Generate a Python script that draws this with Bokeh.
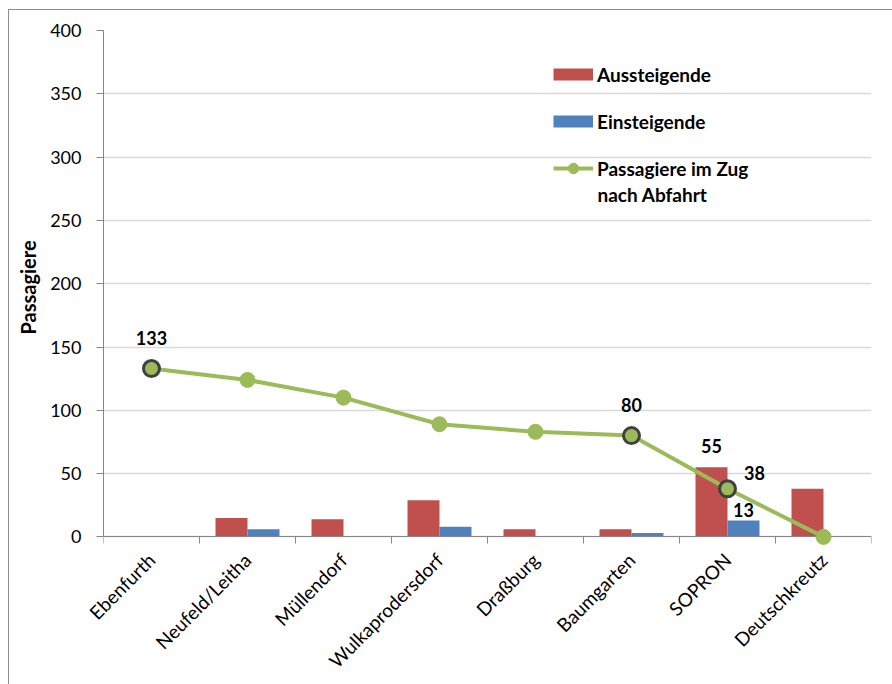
import math

import numpy as np
from bokeh.core.properties import value
from bokeh.embed import file_html
from bokeh.models import FixedTicker, Label, Legend, LegendItem, LinearAxis, Range1d
from bokeh.plotting import figure
from bokeh.resources import INLINE

# Stations along the line and passenger counts per stop
stations = ["Ebenfurth", "Neufeld/Leitha", "Müllendorf", "Wulkaprodersdorf",
            "Draßburg", "Baumgarten", "SOPRON", "Deutschkreutz"]
aussteigende = [0, 15, 14, 29, 6, 6, 55, 38]
einsteigende = [0, 6, 0, 8, 0, 3, 13, 0]
im_zug = [133, 124, 110, 89, 83, 80, 38, 0]
y_ticks = [0, 50, 100, 150, 200, 250, 300, 350, 400]

# stops whose values are called out on the chart
marked = [0, 5, 6]

RED = "#C0504D"
BLUE = "#4F81BD"
GREEN = "#9BBB59"
AXIS = "#868686"
FONT = "Lato"

pos = list(range(len(stations)))
boundaries = [i - 0.5 for i in range(len(stations) + 1)]

# a little room below zero so markers on the axis are not cut off
p = figure(width=883, height=674, output_backend="svg", toolbar_location=None,
           x_range=Range1d(-0.5, len(stations) - 0.5), y_range=Range1d(-6, 400),
           min_border_left=94, min_border_right=21, min_border_top=20,
           min_border_bottom=140)
p.outline_line_color = None
p.background_fill_color = "white"
p.border_fill_color = "white"
p.styles = {"margin-left": "9px", "margin-top": "10px",
            "outline": "1.5px solid #8C8C8C"}

# grid
p.xgrid.visible = False
p.ygrid.grid_line_color = "#D9D9D9"
p.ygrid.grid_line_width = 1.5
p.ygrid.ticker = FixedTicker(ticks=y_ticks)

# y axis
ya = p.yaxis[0]
ya.ticker = FixedTicker(ticks=y_ticks)
ya.bounds = (0, 400)
ya.axis_line_color = AXIS
ya.major_tick_line_color = AXIS
ya.major_tick_out = 7
ya.major_tick_in = 0
ya.minor_tick_line_color = None
ya.major_label_standoff = 15
ya.major_label_text_font = FONT
ya.major_label_text_font_size = "18px"
ya.major_label_text_color = "black"
ya.axis_label = "Passagiere"
ya.axis_label_text_font = FONT
ya.axis_label_text_font_size = "20px"
ya.axis_label_text_font_style = "bold"
ya.axis_label_text_color = "black"
ya.axis_label_standoff = 7

# station names below the frame
xa = p.xaxis[0]
xa.ticker = FixedTicker(ticks=pos)
xa.major_label_overrides = {i: s for i, s in zip(pos, stations)}
xa.major_label_orientation = math.pi / 4
xa.axis_line_color = None
xa.major_tick_line_color = None
xa.minor_tick_line_color = None
xa.major_label_standoff = 6
xa.major_label_text_font = FONT
xa.major_label_text_font_size = "19px"
xa.major_label_text_color = "black"

# category axis line at zero with tick marks between the stations
zero_axis = LinearAxis(fixed_location=0,
                       ticker=FixedTicker(ticks=[], minor_ticks=boundaries),
                       axis_line_color=AXIS, major_tick_line_color=None,
                       major_tick_in=0, major_tick_out=0,
                       minor_tick_line_color=AXIS, minor_tick_in=7, minor_tick_out=0,
                       major_label_standoff=0)
p.add_layout(zero_axis, "above")

# bars
bw = 1 / 3
p.vbar(x=[i - bw / 2 for i in pos], top=aussteigende, width=bw,
       fill_color=RED, line_color=None)
p.vbar(x=[i + bw / 2 for i in pos], top=einsteigende, width=bw,
       fill_color=BLUE, line_color=None)

# passengers on board
r_line = p.line(pos, im_zug, line_color=GREEN, line_width=4, level="overlay")
p.scatter(pos, im_zug, size=15, fill_color=GREEN, line_color=GREEN, line_width=1,
          level="overlay")
p.scatter([pos[i] for i in marked], [im_zug[i] for i in marked], size=16,
          fill_color=GREEN, line_color="#404040", line_width=3, level="overlay")

# legend swatches
nan = np.array([np.nan])
leg_aus = p.line(x=nan, y=nan, line_color=RED, line_width=12)
leg_ein = p.line(x=nan, y=nan, line_color=BLUE, line_width=12)
leg_dot = p.scatter(x=nan, y=nan, size=11, fill_color=GREEN, line_color=GREEN)

# value labels
lab = dict(text_font=value(FONT), text_font_size="18px", text_font_style="bold",
           text_color="black", text_align="center", text_baseline="middle",
           level="overlay")
above = [0, 5]
p.text([pos[i] for i in above], [im_zug[i] for i in above],
       text=[str(im_zug[i]) for i in above], y_offset=-31, **lab)
p.text([pos[6]], [im_zug[6]], text=[str(im_zug[6])], x_offset=27, y_offset=-16, **lab)
p.text([pos[6] - bw / 2], [aussteigende[6]], text=[str(aussteigende[6])],
       y_offset=-21, **lab)
p.text([pos[6] + bw / 2], [einsteigende[6]], text=[str(einsteigende[6])],
       y_offset=-10, **lab)

legend = Legend(items=[
    LegendItem(label="Aussteigende", renderers=[leg_aus]),
    LegendItem(label="Einsteigende", renderers=[leg_ein]),
    LegendItem(label="Passagiere im Zug", renderers=[r_line, leg_dot]),
], location=(450, 363))
legend.border_line_color = None
legend.background_fill_alpha = 0
legend.padding = 0
legend.margin = 0
legend.spacing = 21
legend.glyph_width = 40
legend.glyph_height = 26
legend.label_height = 23
legend.label_standoff = 4
legend.label_text_font = FONT
legend.label_text_font_size = "19px"
legend.label_text_font_style = "bold"
legend.label_text_color = "black"
p.add_layout(legend)

# second line of the last legend entry
p.add_layout(Label(x=494, y=350, x_units="screen", y_units="screen",
                   text="nach Abfahrt", text_font=FONT, text_font_size="19px",
                   text_font_style="bold", text_color="black",
                   text_baseline="middle"))

open("out.html", "w").write(file_html(p, INLINE))
